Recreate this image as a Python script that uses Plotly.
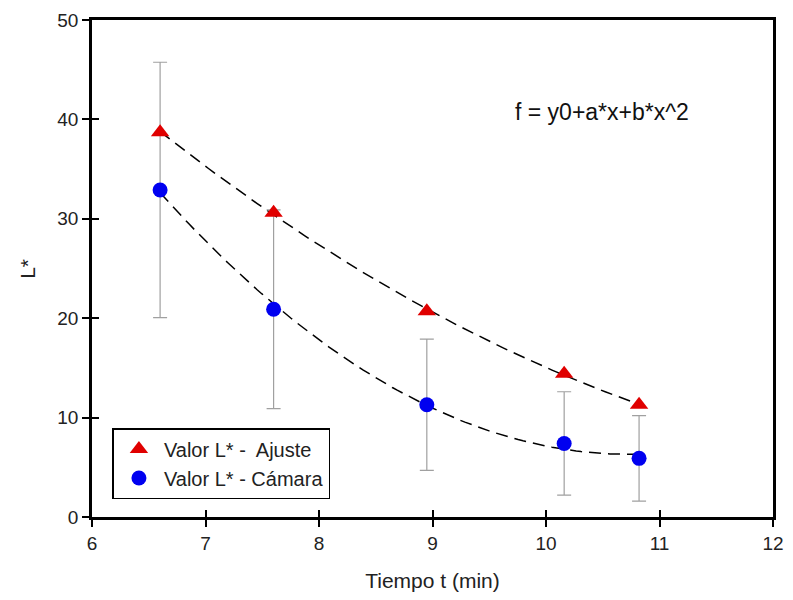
import numpy as np
import plotly.graph_objects as go

# data
tiempo = [6.6, 7.6, 8.95, 10.16, 10.82]
l_ajuste = [38.7, 30.6, 20.7, 14.4, 11.3]
l_camara = [32.9, 20.9, 11.3, 7.4, 5.9]
err_camara = [12.85, 10.0, 6.6, 5.2, 4.3]

x_ticks = [6, 7, 8, 9, 10, 11, 12]
y_ticks = [0, 10, 20, 30, 40, 50]

FONT = "Liberation Sans, Arial, sans-serif"

fig = go.Figure()

# quadratic fit curves f = y0 + a*x + b*x^2
xs = np.linspace(min(tiempo), max(tiempo), 100)
for ys in (l_ajuste, l_camara):
    coef = np.polyfit(tiempo, ys, 2)
    fig.add_trace(go.Scatter(
        x=xs, y=np.polyval(coef, xs), mode="lines",
        line=dict(color="black", width=1.5, dash="12px,7px"),
        showlegend=False, hoverinfo="skip"
    ))

fig.add_trace(go.Scatter(
    x=tiempo, y=l_camara, mode="markers", name="Valor L* - Cámara",
    marker=dict(symbol="circle", size=15, color="#0000f0"),
    error_y=dict(type="data", array=err_camara, visible=True,
                 color="#a0a0a0", thickness=1.2, width=7)
))
fig.add_trace(go.Scatter(
    x=tiempo, y=l_ajuste, mode="markers", name="Valor L* -  Ajuste",
    marker=dict(symbol="triangle-up", size=16, color="#e00000")
))

axis_common = dict(showgrid=False, zeroline=False, showline=True, automargin=False,
                   linecolor="black", linewidth=2.5, mirror=True,
                   ticks="outside", ticklen=7, tickwidth=1.5, tickcolor="black",
                   ticklabeloverflow="allow",
                   tickfont=dict(family=FONT, size=19, color="#222"))

# page body has an 8px margin; keep the figure small enough to avoid scrollbars
fig.update_layout(
    width=777, height=584,
    margin=dict(l=84, r=12, t=12, b=75),
    plot_bgcolor="white", paper_bgcolor="white",
    font=dict(family=FONT, color="#222"),
    xaxis=dict(range=[6, 12], tickvals=x_ticks,
               title=dict(text="Tiempo t (min)", font=dict(size=21), standoff=21),
               **axis_common),
    yaxis=dict(range=[0, 50], tickvals=y_ticks, **axis_common),
    xaxis2=dict(range=[6, 12], tickvals=x_ticks, overlaying="x", anchor="y",
                showticklabels=False, ticks="inside", ticklen=7, tickwidth=1.5,
                tickcolor="black", showgrid=False, zeroline=False, side="bottom"),
    yaxis2=dict(range=[0, 50], tickvals=y_ticks, overlaying="y", anchor="x",
                showticklabels=False, ticks="inside", ticklen=7, tickwidth=1.5,
                tickcolor="black", showgrid=False, zeroline=False, side="left"),
    legend=dict(x=0.03, y=0.179, xanchor="left", yanchor="top",
                bgcolor="white", bordercolor="black", borderwidth=1.5,
                font=dict(family=FONT, size=20, color="#222"),
                traceorder="reversed", itemwidth=40),
    annotations=[
        dict(x=0.749, y=0.815, xref="paper", yref="paper",
             xanchor="center", yanchor="middle",
             text="f = y0+a*x+b*x^2", showarrow=False,
             font=dict(family=FONT, size=23, color="#111")),
        # y-axis title
        dict(x=-0.095, y=0.5, xref="paper", yref="paper",
             xanchor="center", yanchor="middle", textangle=-90,
             text="L*", showarrow=False,
             font=dict(family=FONT, size=21, color="#222")),
    ]
)

# invisible trace so the inner-tick axes are drawn
fig.add_trace(go.Scatter(x=[6], y=[0], xaxis="x2", yaxis="y2", mode="markers",
                         marker=dict(opacity=0), showlegend=False, hoverinfo="skip"))

fig.write_html("out.html")
